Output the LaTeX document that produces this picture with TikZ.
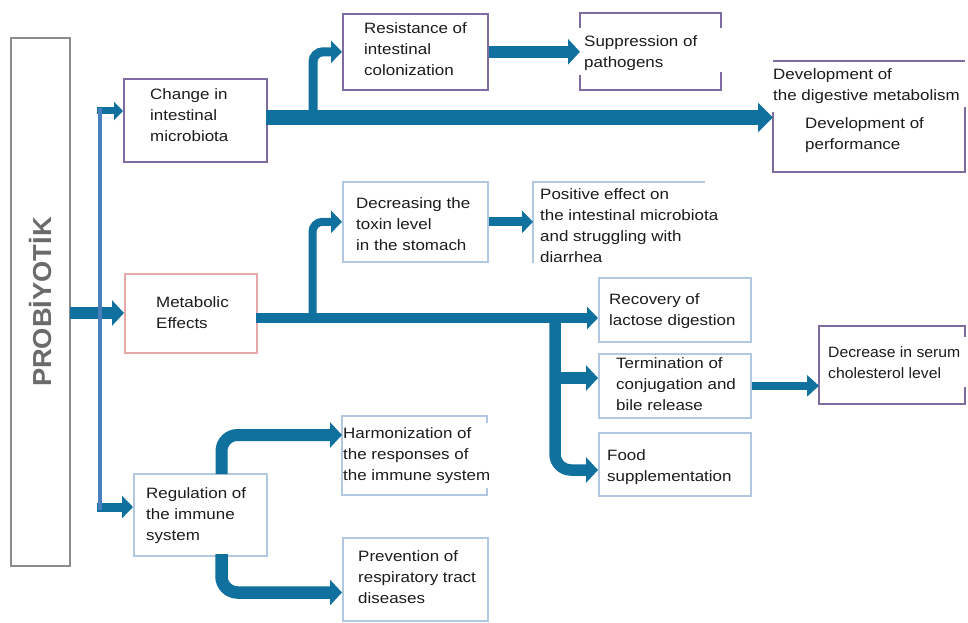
\documentclass[tikz,border=0pt]{standalone}
\usepackage{fontspec}
\setmainfont[FakeStretch=1.13]{Liberation Sans}
\newfontfamily\probfont[FakeStretch=1.05]{Liberation Sans}
\newfontfamily\narrowfont[FakeStretch=1.05]{Liberation Sans}
\usetikzlibrary{arrows.meta}
\definecolor{arr}{HTML}{10709E}
\definecolor{thinb}{HTML}{4A7FBE}
\definecolor{purp}{HTML}{7E6B9F}
\definecolor{lblue}{HTML}{B0C8E2}
\definecolor{pinkb}{HTML}{E6A8A8}
\definecolor{greyb}{HTML}{8C8C8C}
\definecolor{probc}{HTML}{6B6B6B}
\definecolor{txtc}{HTML}{1C1C1C}
\begin{document}
\begin{tikzpicture}[x=1pt,y=-1pt,
  tx/.style={font=\fontsize{15}{21}\selectfont, text=txtc, align=left, inner sep=0pt, anchor=west},
  bx/.style={draw=#1, line width=1.6pt, inner sep=0pt, anchor=north west},
  ghost/.style={inner sep=0pt, anchor=north west},
  fa/.style={draw=arr, line width=14pt, -{Triangle[length=15pt,width=29pt]}},
  fb/.style={draw=arr, line width=11.5pt, -{Triangle[length=12pt,width=25pt]}},
  fc/.style={draw=arr, line width=9pt, -{Triangle[length=11pt,width=22pt]}},
  fs/.style={draw=arr, line width=7pt, -{Triangle[length=9pt,width=18pt]}},
]
\useasboundingbox (0,0) rectangle (968,623);
\fill[white] (0,0) rectangle (968,623);

% ---- boxes ----
\node[bx=greyb, line width=2pt, minimum width=59pt, minimum height=528pt] (pro) at (10,37) {};
\node[rotate=90, inner sep=0pt, font=\probfont\bfseries\fontsize{26}{26}\selectfont, text=probc] (proT) at (pro.center) {PROBİYOTİK};

\node[bx=purp, minimum width=143pt, minimum height=83pt] (chg) at (123,78) {};
\node[bx=purp, minimum width=145pt, minimum height=76pt] (res) at (342,13) {};
\node[ghost, minimum width=141pt, minimum height=77pt] (sup) at (580,13) {};
\node[ghost, minimum width=192pt, minimum height=111pt] (dev) at (773,61) {};
\node[bx=lblue, minimum width=145pt, minimum height=80pt] (dec) at (342,181) {};
\node[ghost, minimum width=172pt, minimum height=81pt] (pos) at (533,182) {};
\node[bx=pinkb, minimum width=132pt, minimum height=79pt] (met) at (124,273) {};
\node[bx=lblue, minimum width=152pt, minimum height=64pt] (rec) at (598,277) {};
\node[bx=lblue, minimum width=152pt, minimum height=64pt] (ter) at (598,353) {};
\node[bx=lblue, minimum width=152pt, minimum height=63pt] (food) at (598,432) {};
\node[ghost, minimum width=146pt, minimum height=78pt] (chol) at (819,326) {};
\node[bx=lblue, minimum width=133pt, minimum height=82pt] (reg) at (133,473) {};
\node[ghost, minimum width=145pt, minimum height=79pt] (har) at (342,416) {};
\node[bx=lblue, minimum width=145pt, minimum height=83pt] (prev) at (342,537) {};

% partial borders
\draw[purp, line width=1.8pt] (580,28) -- (580,13) -- (721,13) -- (721,28);
\draw[purp, line width=1.8pt] (580,75) -- (580,90) -- (721,90) -- (721,72);
\draw[purp, line width=1.8pt] (773,61) -- (965,61);
\draw[purp, line width=1.8pt] (773,112) -- (773,172) -- (965,172) -- (965,107);
\draw[lblue, line width=1.2pt] (533,263) -- (533,182) -- (705,182);
\draw[purp, line width=1.8pt] (965,337) -- (965,326) -- (819,326) -- (819,404) -- (965,404) -- (965,387);
\draw[lblue, line width=1.6pt] (487,423) -- (487,416) -- (342,416) -- (342,495) -- (487,495) -- (487,488);

% ---- connectors ----
\coordinate (a3) at (70,313);
\draw[fb, line width=12pt] (a3) -- (a3 -| met.west);
\coordinate (tT) at (100,108);
\coordinate (tB) at (100,510);
\coordinate (a1) at (97,111);
\draw[fs] (a1) -- (a1 -| chg.west);
\coordinate (a2) at (97,507);
\draw[fc] (a2) -- (a2 -| reg.west);
\draw[thinb, line width=3.5pt] (tT) -- (tB);

\coordinate (a4) at (266,117.5);
\draw[fa] (a4) -- (a4 -| dev.west);
\coordinate (a5) at (313,118);
\draw[fc, rounded corners=10pt] (a5) |- (res.west);
\draw[fb] (res.east) -- (res.east -| sup.west);

\coordinate (a6) at (256,318);
\draw[fc, line width=10pt] (a6) -- (a6 -| rec.west);
\coordinate (a7) at (312.5,318);
\draw[fc, line width=8pt, rounded corners=10pt] (a7) |- (dec.west);
\draw[fc] (dec.east) -- (dec.east -| pos.west);
\coordinate (a8) at (555,322);
\coordinate (a9) at (555,378);
\draw[fb] (a9) -- (a9 -| ter.west);
\coordinate (a10) at (555,470);
\draw[fb, rounded corners=16pt] (a8) |- (a10 -| food.west);
\draw[fc, line width=8pt, -{Triangle[length=12pt,width=21pt]}] (ter.east) -- (ter.east -| chol.west);

\coordinate (a11) at (221.5,474);
\coordinate (h1) at (342,435);
\draw[fb, line width=12pt, rounded corners=16pt] (a11) |- (h1 -| har.west);
\coordinate (a12) at (221.5,554);
\coordinate (p1) at (342,592.5);
\draw[fb, line width=12.5pt, rounded corners=16pt] (a12) |- (p1 -| prev.west);

% ---- texts ----
\node[tx] (chgT) at (150,115) {Change in\\intestinal\\microbiota};
\node[tx] (resT) at (364,49) {Resistance of\\intestinal\\colonization};
\node[tx] (supT) at (584,53) {Suppression of\\pathogens};
\node[tx] (devT1) at (773,86) {Development of\\the digestive metabolism};
\node[tx] (devT2) at (805,135.5) {Development of\\performance};
\node[tx] (decT) at (356,224) {Decreasing the\\toxin level\\in the stomach};
\node[tx] (posT) at (540,226) {Positive effect on\\the intestinal microbiota\\and struggling with\\diarrhea};
\node[tx] (metT) at (156,313) {Metabolic\\Effects};
\node[tx] (recT) at (609,311.5) {Recovery of\\lactose digestion};
\node[tx] (terT) at (616,384) {Termination of\\conjugation and\\bile release};
\node[tx] (foodT) at (607,467.5) {Food\\supplementation};
\node[tx, font=\narrowfont\fontsize{15}{21}\selectfont] (cholT) at (828,362.5) {Decrease in serum\\cholesterol level};
\node[tx] (regT) at (146,516) {Regulation of\\the immune\\system};
\node[tx] (harT) at (343,456) {Harmonization of\\the responses of\\the immune system};
\node[tx] (prevT) at (358,577.5) {Prevention of\\respiratory tract\\diseases};
\end{tikzpicture}
\end{document}
